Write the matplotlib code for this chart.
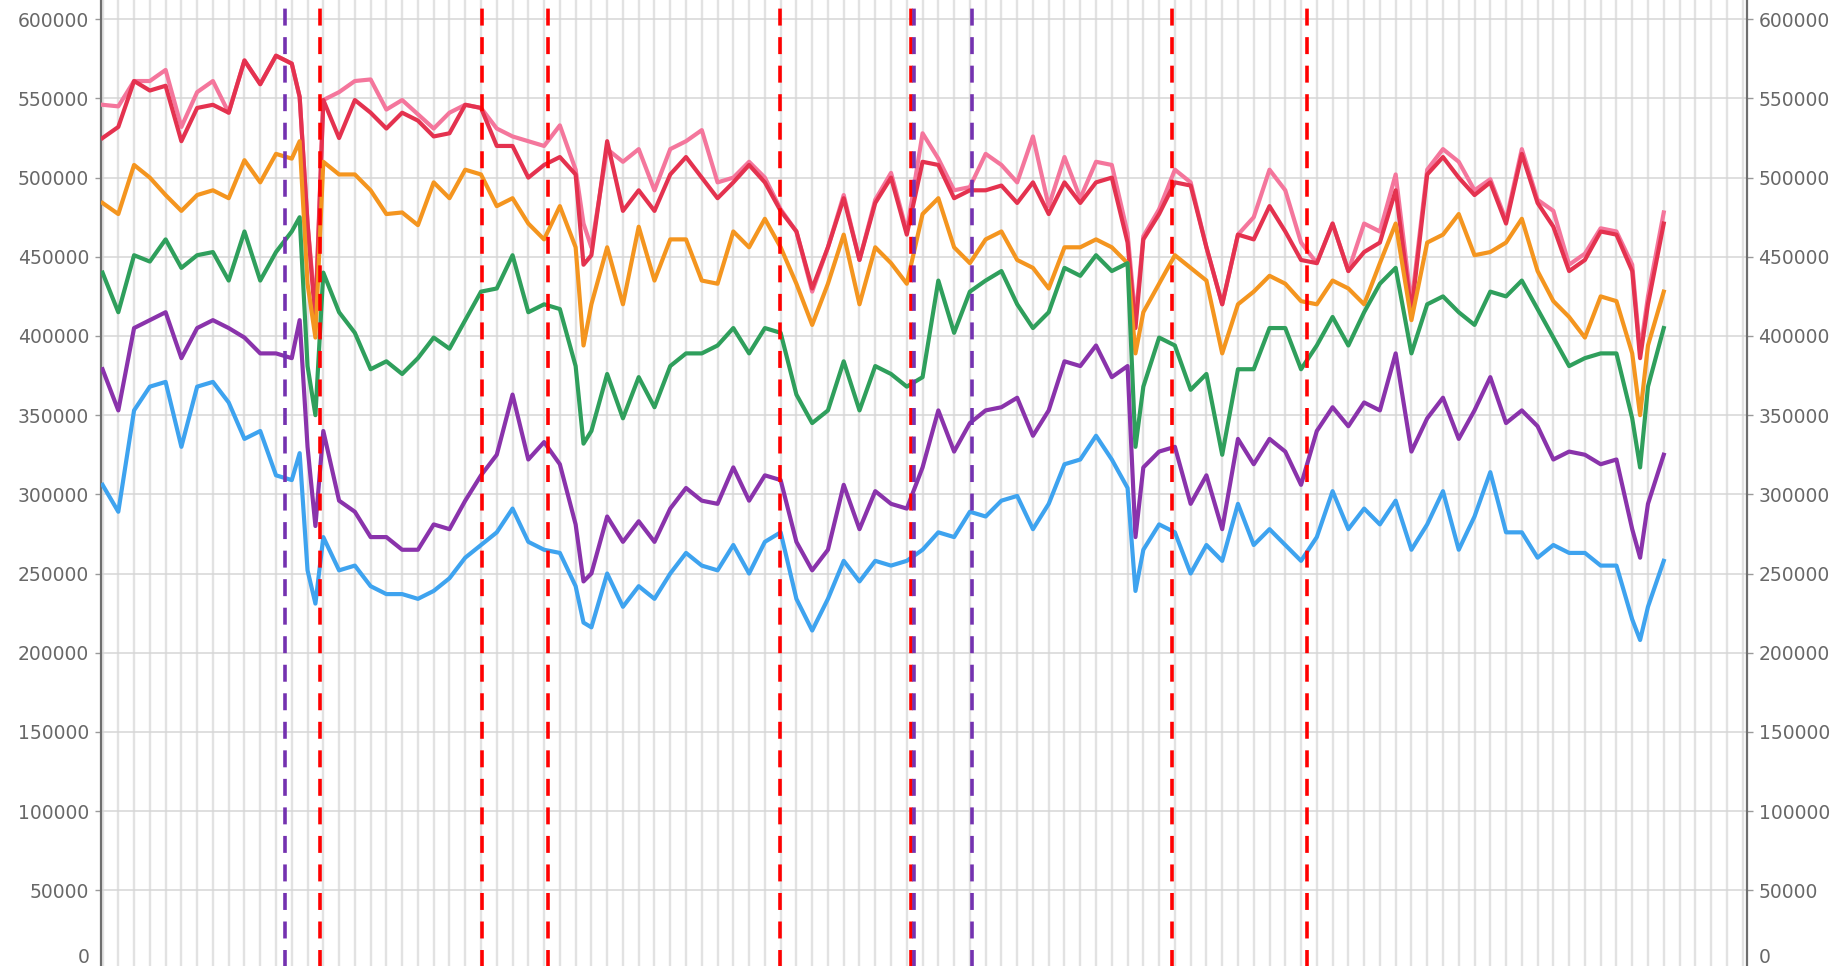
import matplotlib.pyplot as plt

# Set the font of the plot
plt.rcParams.update({'font.family': 'DejaVu Sans', 'font.size': 13.5})

# sample positions (in weeks) shared by every series
weeks = (list(range(-1, 12)) + [11.5, 12, 12.5] + list(range(13, 30)) + [29.5]
         + list(range(30, 65)) + [64.5] + list(range(65, 97)) + [96.5, 97, 98])

# values in thousands, one entry per sample in `weeks`
pink = [546, 545, 561, 561, 568, 532, 554, 561, 541, 574, 559, 577, 572, 551, 471, 415,
        549, 554, 561, 562, 543, 549, 540, 531, 541, 546, 544, 531, 526, 523, 520, 533, 505, 471,
        456, 518, 510, 518, 492, 518, 523, 530, 497, 500, 510, 500, 480, 466, 428, 456, 489, 448,
        486, 503, 466, 528, 512, 492, 494, 515, 508, 497, 526, 482, 513, 487, 510, 508, 465, 410,
        463, 480, 505, 497, 456, 420, 464, 475, 505, 492, 459, 446, 471, 441, 471, 466, 502, 420,
        505, 518, 510, 492, 499, 473, 518, 486, 479, 445, 452, 468, 466, 445, 390, 425, 478]
red = [525, 532, 561, 555, 558, 523, 544, 546, 541, 574, 559, 577, 572, 551, 471, 410,
       549, 525, 549, 541, 531, 541, 536, 526, 528, 546, 544, 520, 520, 500, 508, 513, 502, 445,
       451, 523, 479, 492, 479, 502, 513, 500, 487, 497, 508, 497, 479, 466, 430, 456, 487, 448,
       484, 500, 464, 510, 508, 487, 492, 492, 495, 484, 497, 477, 497, 484, 497, 500, 459, 405,
       461, 477, 497, 495, 456, 420, 464, 461, 482, 466, 448, 446, 471, 441, 453, 459, 492, 415,
       502, 513, 500, 489, 497, 471, 515, 484, 469, 441, 448, 466, 464, 441, 386, 420, 471]
orange = [484, 477, 508, 500, 489, 479, 489, 492, 487, 511, 497, 515, 512, 523, 433, 399,
          510, 502, 502, 492, 477, 478, 470, 497, 487, 505, 502, 482, 487, 471, 461, 482, 456, 394,
          420, 456, 420, 469, 435, 461, 461, 435, 433, 466, 456, 474, 456, 433, 407, 433, 464, 420,
          456, 446, 433, 477, 487, 456, 446, 461, 466, 448, 443, 430, 456, 456, 461, 456, 446, 389,
          415, 433, 451, 443, 435, 389, 420, 428, 438, 433, 422, 420, 435, 430, 420, 446, 471, 410,
          459, 464, 477, 451, 453, 459, 474, 441, 422, 412, 399, 425, 422, 389, 350, 394, 428]
green = [440, 415, 451, 447, 461, 443, 451, 453, 435, 466, 435, 453, 466, 475, 381, 350,
         440, 415, 402, 379, 384, 376, 386, 399, 392, 410, 428, 430, 451, 415, 420, 417, 381, 332,
         340, 376, 348, 374, 355, 381, 389, 389, 394, 405, 389, 405, 402, 363, 345, 353, 384, 353,
         381, 376, 368, 374, 435, 402, 428, 435, 441, 420, 405, 415, 443, 438, 451, 441, 446, 330,
         368, 399, 394, 366, 376, 325, 379, 379, 405, 405, 379, 394, 412, 394, 415, 433, 443, 389,
         420, 425, 415, 407, 428, 425, 435, 417, 399, 381, 386, 389, 389, 348, 317, 368, 405]
purple = [379, 353, 405, 410, 415, 386, 405, 410, 405, 399, 389, 389, 386, 410, 330, 280,
          340, 296, 289, 273, 273, 265, 265, 281, 278, 296, 312, 325, 363, 322, 333, 319, 281, 245,
          250, 286, 270, 283, 270, 291, 304, 296, 294, 317, 296, 312, 309, 270, 252, 265, 306, 278,
          302, 294, 291, 317, 353, 327, 345, 353, 355, 361, 337, 353, 384, 381, 394, 374, 381, 273,
          317, 327, 330, 294, 312, 278, 335, 319, 335, 327, 306, 340, 355, 343, 358, 353, 389, 327,
          348, 361, 335, 353, 374, 345, 353, 343, 322, 327, 325, 319, 322, 278, 260, 294, 325]
blue = [306, 289, 353, 368, 371, 330, 368, 371, 358, 335, 340, 312, 309, 326, 252, 231,
        273, 252, 255, 242, 237, 237, 234, 239, 247, 260, 268, 276, 291, 270, 265, 263, 242, 219,
        216, 250, 229, 242, 234, 250, 263, 255, 252, 268, 250, 270, 276, 234, 214, 234, 258, 245,
        258, 255, 258, 265, 276, 273, 289, 286, 296, 299, 278, 294, 319, 322, 337, 322, 304, 239,
        265, 281, 276, 250, 268, 258, 294, 268, 278, 268, 258, 273, 302, 278, 291, 281, 296, 265,
        281, 302, 265, 286, 314, 276, 276, 260, 268, 263, 263, 255, 255, 221, 208, 229, 258]

# event markers (weeks)
purple_events = [10.56, 50.45, 54.12]
red_events = [12.76, 23.06, 27.26, 41.97, 50.28, 66.82, 75.37]

series = [
    (pink, '#f4769c'),
    (red, '#e4324f'),
    (orange, '#f4951f'),
    (green, '#2f9f5c'),
    (purple, '#8a33ab'),
    (blue, '#3ea3ef'),
]

LABEL_COLOR = '#686868'


def plot_series():
    """Plot all series with the event markers."""
    fig = plt.figure(figsize=(18.45, 9.66), dpi=100)
    ax = fig.add_axes([101 / 1845, -3.4 / 966, 1645.7 / 1845, 981.8 / 966])

    for values, color in series:
        ax.plot(weeks, [v * 1000 for v in values], color=color, lw=3.0,
                solid_joinstyle='round', zorder=3)

    for x in red_events:
        ax.axvline(x, color='#ff0000', lw=2.6, dashes=(4.7, 3.2), zorder=4)
    for x in purple_events:
        ax.axvline(x, color='#7432b0', lw=2.6, dashes=(4.7, 3.2), zorder=4)

    ax.set_xlim(-1.097, 103.26)
    ax.set_ylim(0, 620000)
    ax.set_xticks(range(-1, 104))
    yticks = list(range(0, 600001, 50000))
    ax.set_yticks(yticks)
    # the bottom label is lifted inside the chart, as in the original
    ax.set_yticklabels([''] + [str(t) for t in yticks[1:]])
    ax.tick_params(axis='x', length=0, labelbottom=False)
    ax.tick_params(axis='y', direction='out', length=4.5, width=1, color='#9a9a9a',
                   labelcolor=LABEL_COLOR, pad=4, right=True, labelright=True)
    yax = ax.get_yaxis_transform()
    ax.annotate('0', xy=(0, 0), xycoords=yax, xytext=(-8.5, 8.5),
                textcoords='offset points', ha='right', va='center', color=LABEL_COLOR)
    ax.annotate('0', xy=(1, 0), xycoords=yax, xytext=(8.5, 8.5),
                textcoords='offset points', ha='left', va='center', color=LABEL_COLOR)

    ax.grid(axis='x', color='#e2e2e2', lw=1.7, zorder=0)
    ax.grid(axis='y', color='#d6d6d6', lw=1.1, zorder=0)
    for side in ['top', 'bottom']:
        ax.spines[side].set_visible(False)
    for side in ['left', 'right']:
        ax.spines[side].set_color('#6e6e6e')
        ax.spines[side].set_linewidth(1.6)

    fig.savefig('out.png', dpi=100)


def main():
    plot_series()


if __name__ == "__main__":
    main()
